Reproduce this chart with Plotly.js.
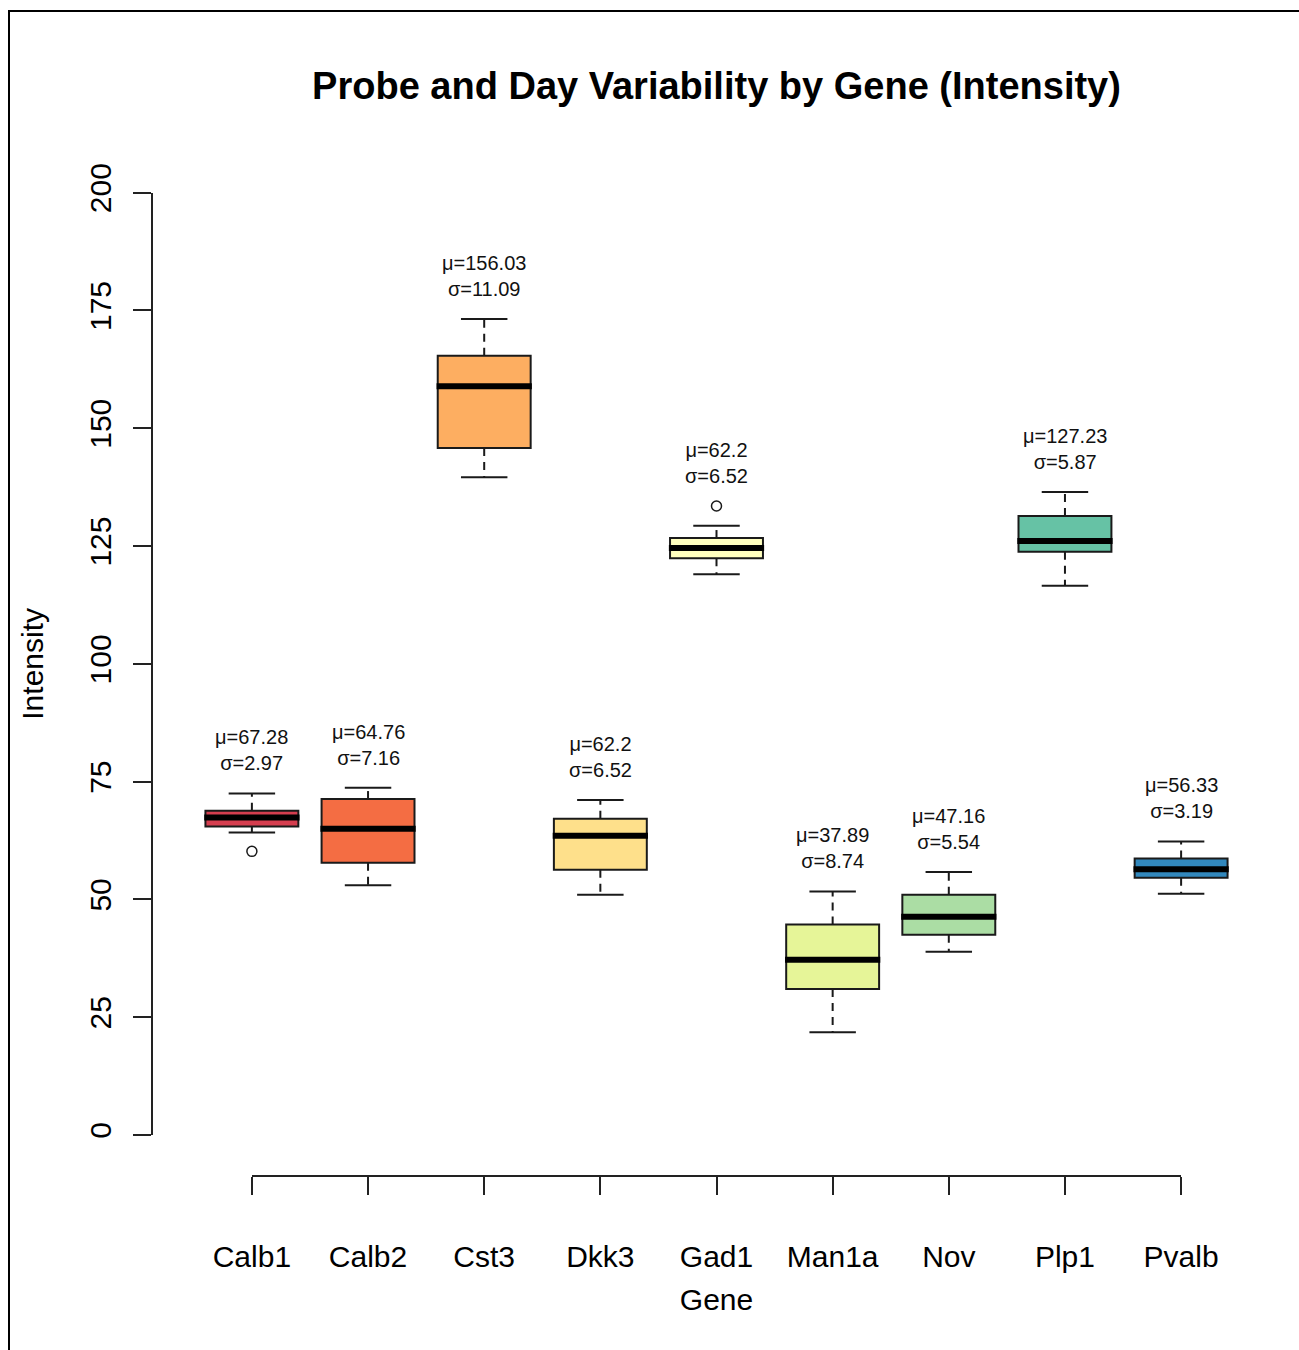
<!DOCTYPE html>
<html>
<head>
<meta charset="utf-8">
<script src="https://cdn.plot.ly/plotly-3.0.1.min.js"></script>
<style>
  html, body { margin: 0; padding: 0; background: #ffffff; }
  #chart { position: absolute; left: 0; top: 0; width: 1299px; height: 1350px; }
  #frame { position: absolute; left: 8px; top: 10px; width: 1400px; height: 1400px;
           border-left: 2px solid #000; border-top: 2px solid #000; pointer-events: none; z-index: 10; }
</style>
</head>
<body>
<div id="chart"></div>
<div id="frame"></div>
<script>
// ---- data ----
const genes = ["Calb1", "Calb2", "Cst3", "Dkk3", "Gad1", "Man1a", "Nov", "Plp1", "Pvalb"];
const lowerWhisker = [64.2, 53.0, 139.6, 51.0, 119.0, 21.8, 38.9, 116.6, 51.2];
const q1Values     = [65.5, 57.8, 145.8, 56.3, 122.4, 31.0, 42.5, 123.8, 54.6];
const medianValues = [67.4, 65.0, 158.9, 63.5, 124.6, 37.2, 46.3, 126.1, 56.4];
const q3Values     = [68.8, 71.3, 165.4, 67.1, 126.7, 44.7, 51.0, 131.4, 58.7];
const upperWhisker = [72.5, 73.7, 173.2, 71.1, 129.3, 51.7, 55.8, 136.5, 62.3];
const outlierGenes  = ["Calb1", "Gad1"];
const outlierValues = [60.2, 133.5];
const muLabels    = ["67.28", "64.76", "156.03", "62.2", "62.2", "37.89", "47.16", "127.23", "56.33"];
const sigmaLabels = ["2.97", "7.16", "11.09", "6.52", "6.52", "8.74", "5.54", "5.87", "3.19"];
const boxColors = ["#D53E4F", "#F46D43", "#FDAE61", "#FEE08B", "#FFFFBF", "#E6F598", "#ABDDA4", "#66C2A5", "#3288BD"];
const yTickValues = [0, 25, 50, 75, 100, 125, 150, 175, 200];

// ---- styling constants ----
const FONT = "Liberation Sans, Arial, sans-serif";
const INK = "#1a1a1a";
const BOX_W = 0.8;
const CAP_HALF = 0.2;
const X_RANGE = [0.14, 9.86];
const Y_RANGE = [-8.7, 208];

const pos = genes.map((g, i) => i + 1);
const traces = [];

// boxes (drawn first so all line traces sit above)
genes.forEach((g, i) => {
  traces.push({
    type: "box", name: g, x: [pos[i]],
    q1: [q1Values[i]], median: [medianValues[i]], q3: [q3Values[i]],
    lowerfence: [q1Values[i]], upperfence: [q3Values[i]],
    width: BOX_W, whiskerwidth: 0, boxpoints: false,
    fillcolor: boxColors[i], line: { color: INK, width: 2 },
    hoverinfo: "skip", showlegend: false
  });
});

// dashed whiskers
const wx = [], wy = [];
genes.forEach((g, i) => {
  wx.push(pos[i], pos[i], null, pos[i], pos[i], null);
  wy.push(q3Values[i], upperWhisker[i], null, q1Values[i], lowerWhisker[i], null);
});
traces.push({ type: "scatter", mode: "lines", x: wx, y: wy,
  line: { color: INK, width: 2, dash: "8px,6px" }, hoverinfo: "skip", showlegend: false });

// whisker caps
const cx = [], cy = [];
genes.forEach((g, i) => {
  cx.push(pos[i] - CAP_HALF, pos[i] + CAP_HALF, null, pos[i] - CAP_HALF, pos[i] + CAP_HALF, null);
  cy.push(upperWhisker[i], upperWhisker[i], null, lowerWhisker[i], lowerWhisker[i], null);
});
traces.push({ type: "scatter", mode: "lines", x: cx, y: cy,
  line: { color: INK, width: 2 }, hoverinfo: "skip", showlegend: false });

// thick medians
const mx = [], my = [];
genes.forEach((g, i) => {
  mx.push(pos[i] - BOX_W / 2 - 0.01, pos[i] + BOX_W / 2 + 0.01, null);
  my.push(medianValues[i], medianValues[i], null);
});
traces.push({ type: "scatter", mode: "lines", x: mx, y: my,
  line: { color: "#000", width: 6 }, hoverinfo: "skip", showlegend: false });

// outliers
traces.push({ type: "scatter", mode: "markers",
  x: outlierGenes.map(g => genes.indexOf(g) + 1), y: outlierValues,
  marker: { symbol: "circle-open", size: 10, color: INK, line: { width: 1.5 } },
  hoverinfo: "skip", showlegend: false });

// invisible trace so the R-style detached axes (x2/y2) exist
traces.push({ type: "scatter", mode: "markers", x: [1, 9], y: [0, 200],
  xaxis: "x2", yaxis: "y2", marker: { opacity: 0 }, hoverinfo: "skip", showlegend: false });

// μ / σ labels above each gene's highest point
const annotations = genes.map((g, i) => {
  let top = upperWhisker[i];
  outlierGenes.forEach((og, k) => { if (og === g) top = Math.max(top, outlierValues[k]); });
  return {
    x: pos[i], y: top, xref: "x", yref: "y",
    text: "\u03bc=" + muLabels[i] + "<br>\u03c3=" + sigmaLabels[i],
    showarrow: false, yanchor: "bottom", xanchor: "center", yshift: 17,
    font: { family: FONT, size: 20, color: "#111" }
  };
});

const xspan = X_RANGE[1] - X_RANGE[0];
const yspan = Y_RANGE[1] - Y_RANGE[0];

const layout = {
  width: 1299, height: 1350,
  margin: { l: 152, r: 18, t: 155, b: 174 },
  paper_bgcolor: "#ffffff", plot_bgcolor: "rgba(0,0,0,0)",
  showlegend: false,
  font: { family: FONT, color: "#000" },
  title: {
    text: "Probe and Day Variability by Gene (Intensity)",
    font: { family: FONT, size: 38, weight: "bold", color: "#000" },
    x: 0.5, xref: "paper", xanchor: "center",
    y: 1 - 86 / 1350, yref: "container", yanchor: "middle"
  },
  xaxis: { range: X_RANGE, visible: false, fixedrange: true },
  yaxis: { range: Y_RANGE, visible: false, fixedrange: true },
  xaxis2: {
    domain: [(1 - X_RANGE[0]) / xspan, (9 - X_RANGE[0]) / xspan],
    range: [1, 9], anchor: "free", position: 0,
    tickmode: "array", tickvals: pos, ticktext: genes,
    ticks: "outside", ticklen: 18, tickwidth: 2, tickcolor: "#222",
    showline: true, linecolor: "#222", linewidth: 2,
    showgrid: false, zeroline: false,
    tickfont: { family: FONT, size: 30, color: "#000" },
    ticklabelstandoff: 36,
    title: { text: "Gene", font: { family: FONT, size: 30, color: "#000" }, standoff: 16 }
  },
  yaxis2: {
    domain: [(0 - Y_RANGE[0]) / yspan, (200 - Y_RANGE[0]) / yspan],
    range: [0, 200], anchor: "free", position: 0,
    tickmode: "array", tickvals: yTickValues,
    ticks: "outside", ticklen: 18, tickwidth: 2, tickcolor: "#222",
    showline: true, linecolor: "#222", linewidth: 2,
    showgrid: false, zeroline: false, tickangle: -90,
    tickfont: { family: FONT, size: 30, color: "#000" },
    ticklabelstandoff: 10,
    title: { text: "Intensity", font: { family: FONT, size: 30, color: "#000" }, standoff: 30 }
  },
  annotations: annotations
};

Plotly.newPlot("chart", traces, layout, { staticPlot: true, displayModeBar: false });
</script>
</body>
</html>
